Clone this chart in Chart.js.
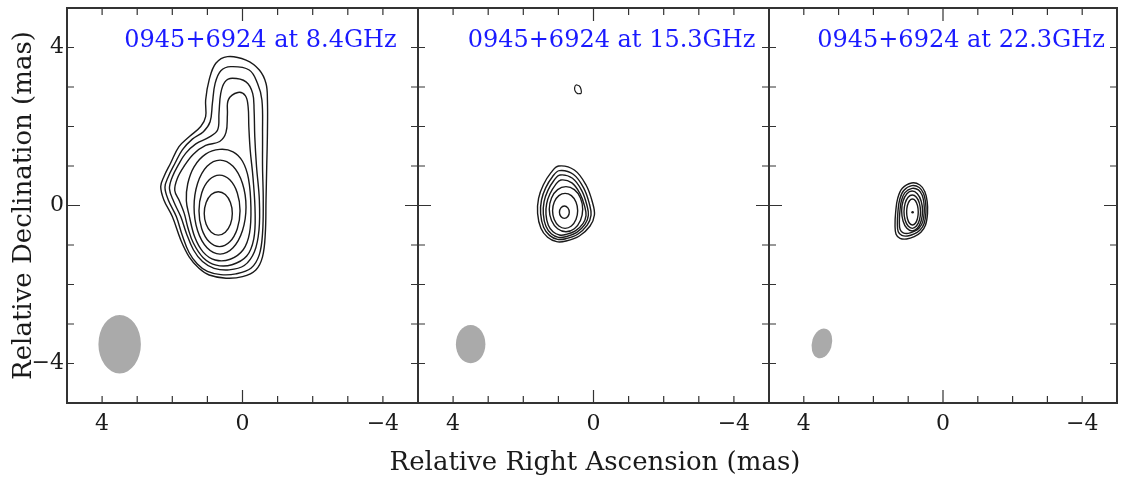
<!DOCTYPE html>
<html>
<head>
<meta charset="utf-8">
<title>0945+6924 contour maps</title>
<script src="https://cdn.jsdelivr.net/npm/chart.js@4.4.1/dist/chart.umd.min.js"></script>
<style>
  html, body { margin: 0; padding: 0; background: #fff; }
  #wrap { position: relative; width: 1121px; height: 477px; overflow: hidden; }
  #wrap canvas { position: absolute; top: 0; }
</style>
</head>
<body>
<div id="wrap">
  <canvas id="p1" width="420" height="477" style="left:0px"></canvas>
  <canvas id="p3" width="361" height="477" style="left:760px"></canvas>
  <canvas id="p2" width="430" height="477" style="left:380px"></canvas>
</div>
<script>
// ---- data (relative RA / Dec in mas) ----
const panelTitles = ['0945+6924 at 8.4GHz', '0945+6924 at 15.3GHz', '0945+6924 at 22.3GHz'];
const tickMarks = [-4, -3, -2, -1, 0, 1, 2, 3, 4];
const tickValues = [4, 0, -4];
const tickLabels = ['4', '0', '\u22124'];

// restoring beam: centre, major / minor FWHM (mas), position angle (deg)
const beamX = [3.5, 3.5, 3.48];
const beamY = [-3.51, -3.51, -3.49];
const beamMaj = [1.48, 0.97, 0.77];
const beamMin = [1.21, 0.84, 0.57];
const beamPA = [0, 0, -20];

// 8.4 GHz contours, inner to outer
const contours84 = [
  [[1.09,-0.20],[1.036,0.075],[0.89,0.276],[0.69,0.35],[0.49,0.276],[0.344,0.075],[0.29,-0.20],[0.344,-0.475],[0.49,-0.676],[0.69,-0.75],[0.89,-0.676],[1.036,-0.475]],
  [[1.24,-0.135],[1.162,0.318],[0.948,0.649],[0.655,0.77],[0.362,0.649],[0.148,0.318],[0.07,-0.135],[0.148,-0.588],[0.362,-0.919],[0.655,-1.04],[0.948,-0.919],[1.162,-0.588]],
  [[1.38,-0.04],[1.281,0.555],[1.01,0.991],[0.64,1.15],[0.27,0.991],[0.0,0.555],[-0.10,-0.04],[0.0,-0.635],[0.27,-1.071],[0.64,-1.23],[1.01,-1.071],[1.281,-0.635]],
  [[1.52,-0.25],[1.60,0.12],[1.56,0.55],[1.38,0.98],[1.05,1.30],[0.65,1.42],[0.27,1.36],[0.00,1.12],[-0.17,0.68],[-0.24,-0.05],[-0.20,-0.70],[-0.02,-1.12],[0.35,-1.36],[0.78,-1.38],[1.12,-1.18],[1.36,-0.80]],
  [[0.13,2.86],[-0.08,2.78],[-0.16,2.50],[-0.18,2.00],[-0.22,1.40],[-0.30,0.70],[-0.36,-0.20],[-0.32,-0.85],[-0.12,-1.28],[0.30,-1.50],[0.75,-1.51],[1.12,-1.32],[1.40,-0.95],[1.56,-0.55],[1.66,-0.20],[1.80,0.12],[1.93,0.38],[1.86,0.68],[1.66,1.00],[1.40,1.30],[1.05,1.52],[0.65,1.62],[0.47,1.85],[0.43,2.30],[0.40,2.68]],
  [[0.29,3.22],[-0.10,3.13],[-0.29,2.84],[-0.33,2.42],[-0.35,1.74],[-0.40,0.98],[-0.48,0.14],[-0.47,-0.62],[-0.34,-1.17],[-0.05,-1.52],[0.38,-1.63],[0.81,-1.59],[1.14,-1.42],[1.40,-1.12],[1.60,-0.70],[1.76,-0.28],[1.96,0.10],[2.08,0.42],[2.00,0.72],[1.82,1.04],[1.62,1.32],[1.33,1.56],[0.95,1.73],[0.71,1.91],[0.67,2.33],[0.62,2.84],[0.50,3.13]],
  [[0.332,3.515],[-0.191,3.43],[-0.429,3.09],[-0.553,2.67],[-0.571,1.83],[-0.571,0.98],[-0.591,0.14],[-0.571,-0.70],[-0.477,-1.25],[-0.24,-1.59],[0.189,-1.73],[0.617,-1.75],[1.0,-1.67],[1.286,-1.48],[1.523,-1.19],[1.714,-0.76],[1.886,-0.28],[2.114,0.14],[2.209,0.46],[2.114,0.73],[1.923,1.07],[1.714,1.41],[1.429,1.68],[1.114,1.87],[0.923,2.12],[0.857,2.59],[0.78,3.09],[0.617,3.41]],
  [[0.43,3.77],[-0.10,3.68],[-0.48,3.43],[-0.67,3.09],[-0.71,2.67],[-0.71,1.83],[-0.69,0.98],[-0.67,0.14],[-0.65,-0.70],[-0.57,-1.30],[-0.38,-1.63],[0.0,-1.80],[0.47,-1.84],[0.95,-1.76],[1.24,-1.59],[1.52,-1.30],[1.76,-0.87],[2.0,-0.28],[2.24,0.14],[2.33,0.48],[2.24,0.73],[2.05,1.07],[1.81,1.49],[1.52,1.74],[1.19,2.0],[1.05,2.25],[1.05,2.67],[0.95,3.18],[0.76,3.60]]
];

// 15.3 GHz contours, inner to outer, plus the small isolated one
const contours153 = [
  [[0.97,-0.17],[0.929,-0.06],[0.83,-0.014],[0.731,-0.06],[0.69,-0.17],[0.731,-0.28],[0.83,-0.326],[0.929,-0.28]],
  [[1.166,-0.135],[1.118,0.087],[0.987,0.249],[0.809,0.308],[0.630,0.249],[0.499,0.087],[0.451,-0.135],[0.499,-0.357],[0.630,-0.519],[0.809,-0.578],[0.987,-0.519],[1.118,-0.357]],
  [[1.26,-0.093],[1.196,0.192],[1.022,0.401],[0.784,0.477],[0.546,0.401],[0.372,0.192],[0.308,-0.093],[0.372,-0.378],[0.546,-0.587],[0.784,-0.663],[1.022,-0.587],[1.196,-0.378]],
  [[0.931,0.646],[0.616,0.573],[0.381,0.296],[0.247,-0.041],[0.213,-0.256],[0.300,-0.459],[0.516,-0.643],[0.784,-0.734],[0.971,-0.747],[1.153,-0.667],[1.287,-0.501],[1.354,-0.225],[1.334,0.050],[1.240,0.296],[1.085,0.523]],
  [[0.954,0.772],[0.600,0.689],[0.335,0.376],[0.184,-0.006],[0.146,-0.250],[0.244,-0.479],[0.487,-0.688],[0.789,-0.792],[0.999,-0.806],[1.204,-0.715],[1.355,-0.527],[1.430,-0.215],[1.408,0.097],[1.302,0.376],[1.128,0.633]],
  [[0.974,0.882],[0.578,0.791],[0.281,0.446],[0.112,0.025],[0.070,-0.244],[0.18,-0.497],[0.451,-0.727],[0.789,-0.841],[1.025,-0.857],[1.254,-0.757],[1.422,-0.550],[1.507,-0.206],[1.482,0.139],[1.363,0.446],[1.169,0.729]],
  [[0.993,1.0],[0.546,0.899],[0.212,0.519],[0.022,0.055],[-0.026,-0.241],[0.098,-0.519],[0.403,-0.772],[0.784,-0.899],[1.05,-0.916],[1.308,-0.806],[1.498,-0.578],[1.593,-0.198],[1.565,0.181],[1.431,0.519],[1.212,0.831]]
];
const islet153 = [[0.498,3.051],[0.403,3.025],[0.355,2.941],[0.355,2.84],[0.451,2.832],[0.527,2.907],[0.536,2.992]];

// 22.3 GHz contours, inner to outer, and the peak dot
const contours223 = [
  [[1.045,-0.165],[1.023,0.0],[0.962,0.121],[0.878,0.165],[0.794,0.121],[0.733,0.0],[0.711,-0.165],[0.733,-0.33],[0.794,-0.450],[0.878,-0.494],[0.962,-0.450],[1.023,-0.33]],
  [[1.121,-0.156],[1.089,0.055],[1.002,0.209],[0.883,0.266],[0.764,0.209],[0.677,0.055],[0.645,-0.156],[0.677,-0.367],[0.764,-0.521],[0.883,-0.578],[1.002,-0.521],[1.089,-0.367]],
  [[1.188,-0.14],[1.148,0.114],[1.038,0.299],[0.888,0.367],[0.738,0.299],[0.628,0.114],[0.588,-0.14],[0.628,-0.393],[0.738,-0.578],[0.888,-0.646],[1.038,-0.578],[1.148,-0.393]],
  [[0.890,0.435],[0.707,0.394],[0.598,0.258],[0.547,0.055],[0.540,-0.182],[0.584,-0.421],[0.685,-0.569],[0.832,-0.658],[0.999,-0.705],[1.144,-0.691],[1.232,-0.610],[1.254,-0.421],[1.239,-0.149],[1.196,0.122],[1.094,0.327]],
  [[0.893,0.502],[0.684,0.456],[0.559,0.305],[0.500,0.077],[0.492,-0.188],[0.542,-0.454],[0.659,-0.620],[0.827,-0.719],[1.019,-0.772],[1.185,-0.757],[1.286,-0.666],[1.311,-0.454],[1.294,-0.150],[1.244,0.152],[1.128,0.381]],
  [[0.902,0.570],[0.664,0.519],[0.521,0.350],[0.454,0.097],[0.445,-0.198],[0.502,-0.494],[0.635,-0.679],[0.826,-0.789],[1.045,-0.848],[1.235,-0.831],[1.349,-0.730],[1.378,-0.494],[1.359,-0.156],[1.302,0.181],[1.169,0.435]]
];
const peak223 = [[0.874, -0.172]];

// ---- drawing ----
const serif = '"DejaVu Serif", "Liberation Serif", serif';
const tickFont = { family: serif, size: 22 };
const ink = '#1a1a1a';

function tickText(v) {
  const k = tickValues.indexOf(v);
  return k >= 0 ? tickLabels[k] : '';
}

// close contour lines into loops (same mechanism the radar chart uses)
const loopPlugin = {
  id: 'closedContours',
  afterDatasetsUpdate(chart) {
    chart.data.datasets.forEach((ds, i) => {
      if (!ds.closed) return;
      const line = chart.getDatasetMeta(i).dataset;
      if (!line) return;
      line._loop = true;
      line._fullLoop = true;
      line._pointsUpdated = false;
      line._segments = undefined;
      line._path = undefined;
    });
  }
};

// box + inward ticks on all four sides
const framePlugin = {
  id: 'frame',
  afterDraw(chart) {
    const { ctx, chartArea: a, scales } = chart;
    const xs = scales.x, ys = scales.y;
    ctx.save();
    ctx.strokeStyle = '#333';
    ctx.lineWidth = 1.2;
    ctx.beginPath();
    tickMarks.forEach(v => {
      const len = v === 0 ? 13 : 7;
      const px = xs.getPixelForValue(v), py = ys.getPixelForValue(v);
      ctx.moveTo(px, a.bottom); ctx.lineTo(px, a.bottom - len);
      ctx.moveTo(px, a.top); ctx.lineTo(px, a.top + len);
      ctx.moveTo(a.left, py); ctx.lineTo(a.left + len, py);
      ctx.moveTo(a.right, py); ctx.lineTo(a.right - len, py);
    });
    ctx.stroke();
    ctx.lineWidth = 2;
    ctx.strokeRect(a.left, a.top, a.right - a.left, a.bottom - a.top);
    ctx.restore();
  }
};

// grey beam ellipse, drawn in data units
const beamPlugin = {
  id: 'beam',
  beforeDatasetsDraw(chart, args, o) {
    const { ctx, scales } = chart;
    const xs = scales.x, ys = scales.y;
    const cx = xs.getPixelForValue(o.bx), cy = ys.getPixelForValue(o.by);
    const sx = xs.getPixelForValue(o.bx + 1) - cx;
    const sy = ys.getPixelForValue(o.by + 1) - cy;
    const pa = o.pa * Math.PI / 180;
    ctx.save();
    ctx.translate(cx, cy);
    ctx.scale(sx, sy);
    ctx.beginPath();
    ctx.ellipse(0, 0, o.maj / 2, o.min / 2, Math.PI / 2 - pa, 0, 2 * Math.PI);
    ctx.fillStyle = '#aaaaaa';
    ctx.fill();
    ctx.restore();
  }
};

const labelPlugin = {
  id: 'panelLabel',
  afterDraw(chart, args, o) {
    const { ctx, chartArea: a } = chart;
    ctx.save();
    ctx.font = '24px ' + serif;
    ctx.fillStyle = '#1a1aff';
    ctx.textAlign = 'center';
    ctx.textBaseline = 'alphabetic';
    ctx.fillText(o.text, (a.left + a.right) / 2 + 18, a.top + 39);
    ctx.restore();
  }
};

function contourSets(list, tension) {
  return list.map(pts => ({
    data: pts.map(p => ({ x: p[0], y: p[1] })),
    closed: true,
    borderColor: ink,
    borderWidth: 1.4,
    tension: tension,
    pointRadius: 0,
    fill: false
  }));
}

// fixed box sizes, and no extra room reserved for edge labels
function fixX(height) {
  return s => { s.height = height; s.paddingLeft = 0; s.paddingRight = 0; };
}
function fixY(width) {
  return s => { s.width = width; s.paddingTop = 0; s.paddingBottom = 0; };
}

function xScale(height) {
  return {
    type: 'linear', min: -5, max: 5, reverse: true,
    afterFit: fixX(height),
    grid: { display: false, drawTicks: false },
    border: { display: false },
    ticks: { stepSize: 1, autoSkip: false, maxRotation: 0, padding: 8,
             color: ink, font: tickFont, callback: tickText }
  };
}

function spacer(width, position) {
  return {
    type: 'linear', min: -5, max: 5, position: position, display: true,
    afterFit: fixY(width),
    grid: { display: false, drawTicks: false },
    border: { display: false },
    ticks: { display: false }
  };
}

function makeChart(id, i, datasets, scales, padding, title) {
  return new Chart(document.getElementById(id), {
    type: 'line',
    data: { datasets: datasets },
    options: {
      responsive: false,
      animation: false,
      devicePixelRatio: 1,
      events: [],
      layout: { padding: padding },
      scales: scales,
      plugins: {
        legend: { display: false },
        tooltip: { enabled: false },
        title: title || { display: false },
        beam: { bx: beamX[i], by: beamY[i], maj: beamMaj[i], min: beamMin[i], pa: beamPA[i] },
        panelLabel: { text: panelTitles[i] }
      }
    },
    plugins: [loopPlugin, beamPlugin, framePlugin, labelPlugin]
  });
}

// panel 1: 8.4 GHz, carries the y axis
makeChart('p1', 0, contourSets(contours84, 0.38), {
  x: xScale(74),
  y: {
    type: 'linear', min: -5, max: 5, position: 'left',
    afterFit: fixY(67),
    grid: { display: false, drawTicks: false },
    border: { display: false },
    ticks: { stepSize: 1, autoSkip: false, padding: 3, color: ink, font: tickFont, callback: tickText },
    title: { display: true, text: 'Relative Declination (mas)', color: ink,
             font: { family: serif, size: 26, lineHeight: 1.2 }, padding: { top: 9, bottom: 0 } }
  }
}, { top: 8, left: 0, right: 2, bottom: 0 });

// panel 2: 15.3 GHz, carries the shared x-axis title
const sets153 = contourSets(contours153, 0.38);
sets153.push({
  data: islet153.map(p => ({ x: p[0], y: p[1] })),
  closed: true, borderColor: ink, borderWidth: 1.2, tension: 0.2, pointRadius: 0, fill: false
});
makeChart('p2', 1, sets153, {
  x: xScale(39),
  y: spacer(38, 'left'),
  yR: spacer(41, 'right')
}, { top: 8, left: 0, right: 0, bottom: 0 }, {
  display: true, position: 'bottom', text: 'Relative Right Ascension (mas)', color: ink,
  font: { family: serif, size: 26, lineHeight: 1, weight: 'normal' }, padding: { top: 8, bottom: 1 }
});

// panel 3: 22.3 GHz
const sets223 = contourSets(contours223, 0.38);
sets223.push({
  data: peak223.map(p => ({ x: p[0], y: p[1] })),
  showLine: false, pointRadius: 1.3, pointBorderWidth: 0, pointBackgroundColor: ink
});
makeChart('p3', 2, sets223, {
  x: xScale(74),
  y: { type: 'linear', min: -5, max: 5, display: false }
}, { top: 8, left: 9, right: 1, bottom: 0 });
</script>
</body>
</html>
